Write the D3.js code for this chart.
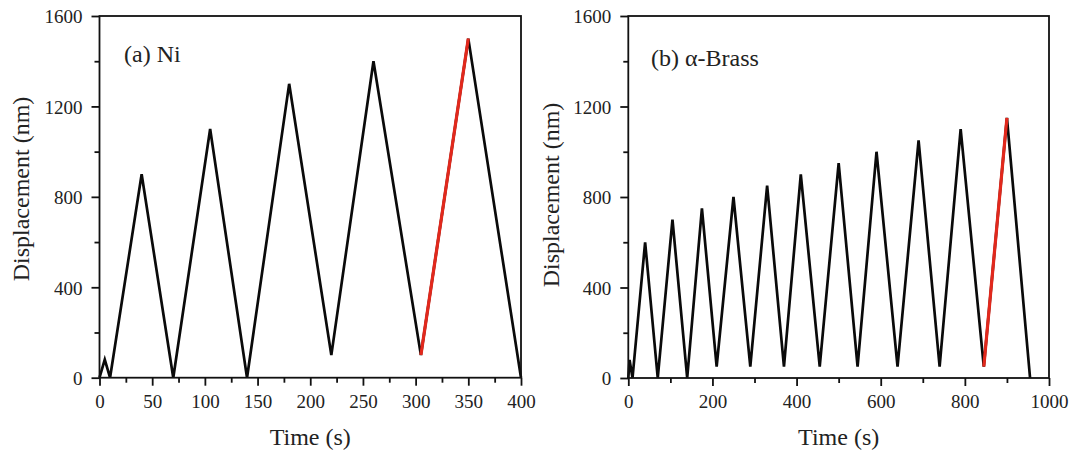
<!DOCTYPE html>
<html><head><meta charset="utf-8">
<script src="https://cdn.jsdelivr.net/npm/d3@7"></script>
<style>body{margin:0;background:#fff} svg{display:block}</style>
</head><body><svg id="c" width="1073" height="455"></svg>
<script>
// ---- data ----
const niTime = [0,5,10,40,70,105,140,180,220,260,305,350,400];
const niDisp = [0,80,0,900,0,1100,0,1300,100,1400,100,1500,0];
const niRedTime = [305,350];
const niRedDisp = [100,1500];
const brassTime = [0,3,10,40,70,105,140,175,210,250,290,330,370,410,455,500,545,590,640,690,740,790,845,900,955];
const brassDisp = [0,80,0,600,0,700,0,750,50,800,50,850,50,900,50,950,50,1000,50,1050,50,1100,50,1150,0];
const brassRedTime = [845,900];
const brassRedDisp = [50,1150];
const niXTicks = [0,50,100,150,200,250,300,350,400];
const niXMinor = [25,75,125,175,225,275,325,375];
const brassXTicks = [0,200,400,600,800,1000];
const brassXMinor = [100,300,500,700,900];
const yTicks = [0,400,800,1200,1600];
const yMinor = [200,600,1000,1400];
const panelLabels = ["(a) Ni", "(b) \u03B1-Brass"];
const xTitle = "Time (s)";
const yTitle = "Displacement (nm)";

// ---- drawing ----
const svg = d3.select("#c");
const FONT = "'Liberation Serif','Times New Roman',serif";
const TXT = "#222";

function panel(cfg){
  const x = d3.scaleLinear().domain(cfg.xDomain).range([cfg.left, cfg.right]);
  const y = d3.scaleLinear().domain([0,1600]).range([cfg.bottom, cfg.top]);
  const g = svg.append("g");

  const styleAxis = sel => {
    sel.selectAll("path").remove();
    sel.selectAll("line").attr("stroke","#111").attr("stroke-width",1.8);
    sel.selectAll("text").attr("fill",TXT).style("font-family",FONT).style("font-size",cfg.tickFs+"px");
  };
  g.append("g").attr("transform",`translate(0,${cfg.bottom})`)
    .call(d3.axisBottom(x).tickValues(cfg.xTicks).tickSize(8).tickPadding(cfg.xPad).tickSizeOuter(0).tickFormat(d3.format("d")))
    .call(styleAxis);
  g.append("g").attr("transform",`translate(0,${cfg.bottom})`)
    .call(d3.axisBottom(x).tickValues(cfg.xMinor).tickSize(5).tickSizeOuter(0).tickFormat(""))
    .call(styleAxis);
  g.append("g").attr("transform",`translate(${cfg.left},0)`)
    .call(d3.axisLeft(y).tickValues(yTicks).tickSize(8).tickPadding(cfg.yPad).tickSizeOuter(0).tickFormat(d3.format("d")))
    .call(styleAxis)
    .selectAll("text").attr("dy","0.36em");
  g.append("g").attr("transform",`translate(${cfg.left},0)`)
    .call(d3.axisLeft(y).tickValues(yMinor).tickSize(5).tickSizeOuter(0).tickFormat(""))
    .call(styleAxis);

  const line = d3.line().x(d=>x(d[0])).y(d=>y(d[1]));
  g.append("path").datum(d3.zip(cfg.t, cfg.d)).attr("d",line)
    .attr("fill","none").attr("stroke","#0a0a0a").attr("stroke-width",2.7).attr("stroke-linejoin","miter");
  g.append("path").datum(d3.zip(cfg.rt, cfg.rd)).attr("d",line)
    .attr("fill","none").attr("stroke","#e2281c").attr("stroke-width",3.2);

  g.append("rect").attr("x",cfg.left).attr("y",cfg.top)
    .attr("width",cfg.right-cfg.left).attr("height",cfg.bottom-cfg.top)
    .attr("fill","none").attr("stroke","#111").attr("stroke-width",1.8);

  g.append("text").attr("x",cfg.labX).attr("y",cfg.labY).text(cfg.label)
    .attr("fill",TXT).style("font-family",FONT).style("font-size",cfg.labFs+"px");
  g.append("text").attr("x",(cfg.left+cfg.right)/2).attr("y",cfg.xtY).attr("text-anchor","middle")
    .text(xTitle).attr("fill",TXT).style("font-family",FONT).style("font-size",cfg.titleFs+"px");
  g.append("text").attr("transform",`translate(${cfg.ytX},${cfg.ytY}) rotate(-90)`).attr("text-anchor","middle")
    .text(yTitle).attr("fill",TXT).style("font-family",FONT).style("font-size",cfg.titleFs+"px");
}

panel({xDomain:[0,400], left:99.5, right:521, top:16, bottom:377.7,
  xTicks:niXTicks, xMinor:niXMinor, t:niTime, d:niDisp, rt:niRedTime, rd:niRedDisp,
  tickFs:19, xPad:9, yPad:9, label:panelLabels[0], labX:124, labY:62, labFs:24,
  titleFs:24, xtY:445, ytX:29, ytY:189});
panel({xDomain:[0,1000], left:628.3, right:1049, top:16, bottom:378,
  xTicks:brassXTicks, xMinor:brassXMinor, t:brassTime, d:brassDisp, rt:brassRedTime, rd:brassRedDisp,
  tickFs:19, xPad:9, yPad:9, label:panelLabels[1], labX:651, labY:66, labFs:24,
  titleFs:24, xtY:445, ytX:559, ytY:195});
</script></body></html>
